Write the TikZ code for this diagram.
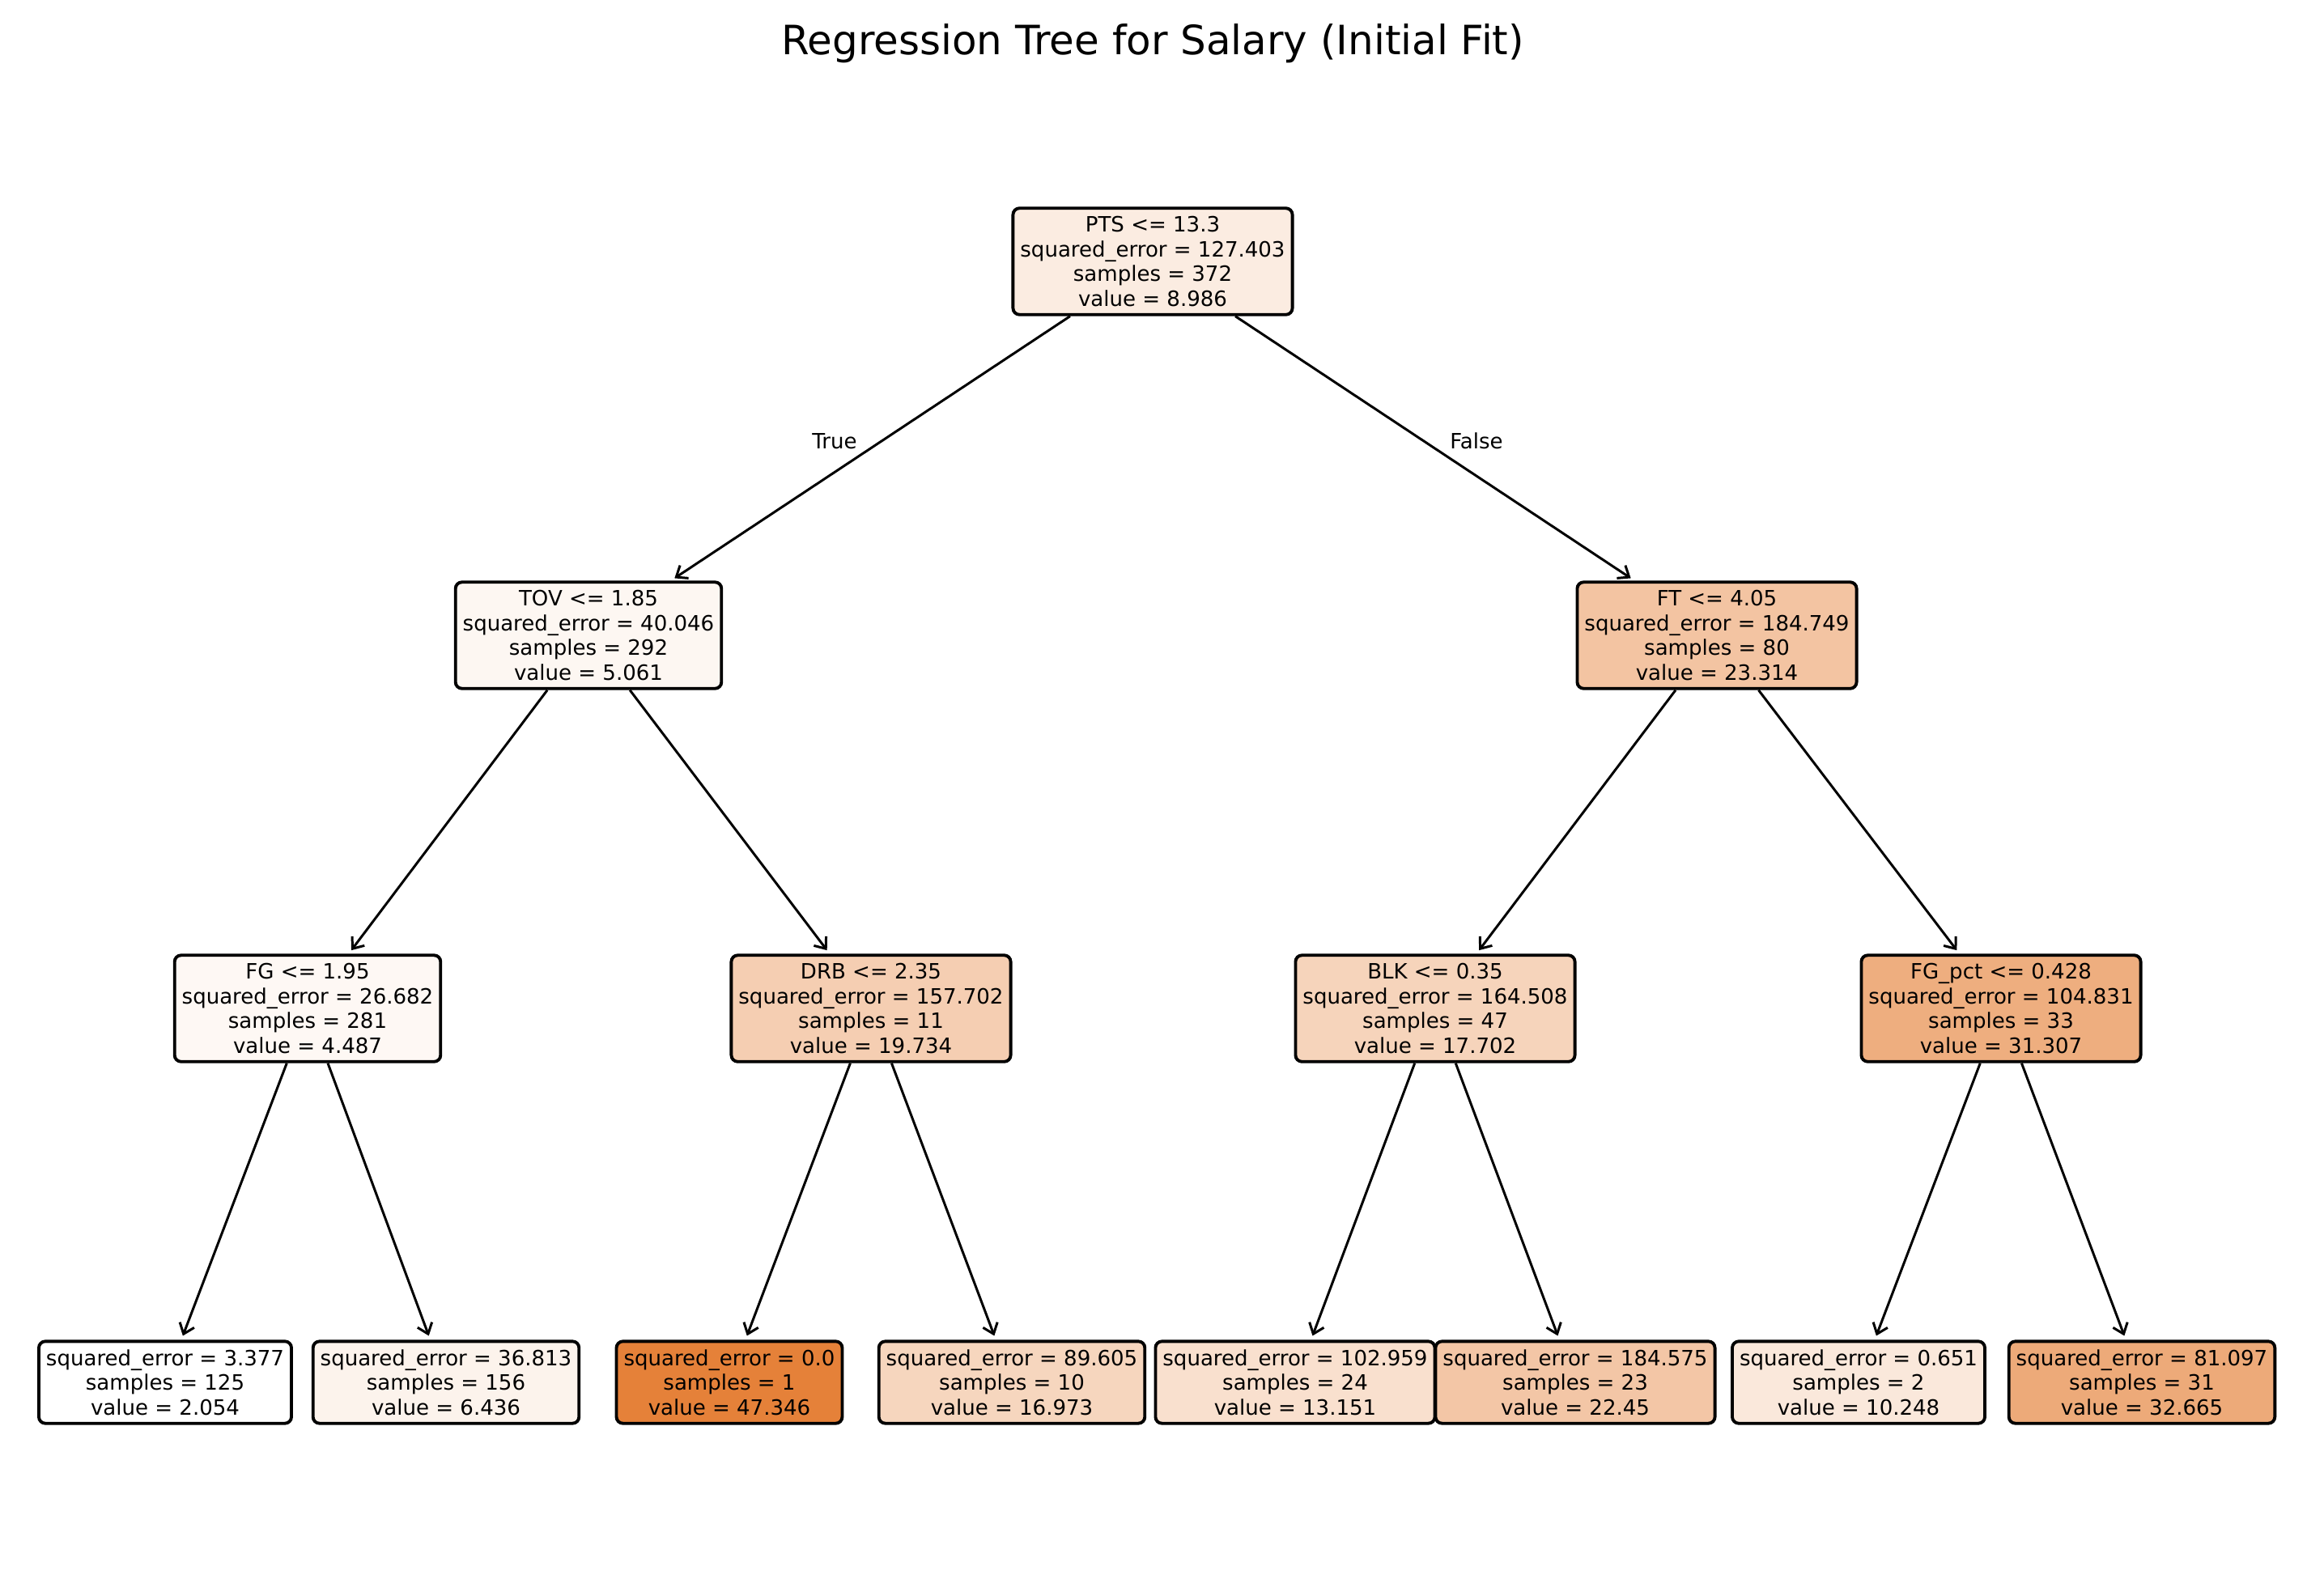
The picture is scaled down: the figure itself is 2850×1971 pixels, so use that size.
\documentclass[tikz,border=0pt]{standalone}
\usepackage{fontspec}
\setmainfont{DejaVu Sans}
\usetikzlibrary{arrows.meta}
\definecolor{cOrange}{HTML}{E58139}
\definecolor{cInk}{HTML}{000000}

\begin{document}
\begin{tikzpicture}[
  x=0.01cm, y=-0.01cm,
  tnode/.style={draw=cInk, line width=1.1pt, rounded corners=0.8mm, align=center,
    font=\fontsize{7.4}{8.7}\selectfont, inner xsep=0.09cm, inner ysep=0.1cm, text=cInk},
  edge/.style={draw=cInk, line width=0.85pt,
    -{Straight Barb[length=1.2mm, width=1.9mm]}, shorten >=1.5pt},
  blab/.style={font=\fontsize{7.4}{8.7}\selectfont, text=cInk},
  ttl/.style={font=\fontsize{14.2}{17}\selectfont, text=cInk},
]
\useasboundingbox (0,0) rectangle (2850,1971);
\node[ttl] (title) at (1424,54) {Regression Tree for Salary (Initial Fit)};

% splits
\node[tnode, fill=cOrange!15.3] (pts) at (1424,323) {PTS <= 13.3\\squared\_error = 127.403\\samples = 372\\value = 8.986};
\node[tnode, fill=cOrange!6.6] (tov) at (727,785) {TOV <= 1.85\\squared\_error = 40.046\\samples = 292\\value = 5.061};
\node[tnode, fill=cOrange!46.9] (ft) at (2121,785) {FT <= 4.05\\squared\_error = 184.749\\samples = 80\\value = 23.314};
\node[tnode, fill=cOrange!5.4] (fg) at (380,1246) {FG <= 1.95\\squared\_error = 26.682\\samples = 281\\value = 4.487};
\node[tnode, fill=cOrange!39] (drb) at (1076,1246) {DRB <= 2.35\\squared\_error = 157.702\\samples = 11\\value = 19.734};
\node[tnode, fill=cOrange!34.5] (blk) at (1773,1246) {BLK <= 0.35\\squared\_error = 164.508\\samples = 47\\value = 17.702};
\node[tnode, fill=cOrange!64.6] (fgpct) at (2472,1246) {FG\_pct <= 0.428\\squared\_error = 104.831\\samples = 33\\value = 31.307};

% leaves
\node[tnode, fill=white] (l1) at (204,1708) {squared\_error = 3.377\\samples = 125\\value = 2.054};
\node[tnode, fill=cOrange!9.7] (l2) at (551,1708) {squared\_error = 36.813\\samples = 156\\value = 6.436};
\node[tnode, fill=cOrange] (l3) at (901,1708) {squared\_error = 0.0\\samples = 1\\value = 47.346};
\node[tnode, fill=cOrange!32.9] (l4) at (1250,1708) {squared\_error = 89.605\\samples = 10\\value = 16.973};
\node[tnode, fill=cOrange!24.5] (l5) at (1600,1708) {squared\_error = 102.959\\samples = 24\\value = 13.151};
\node[tnode, fill=cOrange!45] (l6) at (1946,1708) {squared\_error = 184.575\\samples = 23\\value = 22.45};
\node[tnode, fill=cOrange!18.1] (l7) at (2296,1708) {squared\_error = 0.651\\samples = 2\\value = 10.248};
\node[tnode, fill=cOrange!67.6] (l8) at (2646,1708) {squared\_error = 81.097\\samples = 31\\value = 32.665};

\foreach \a/\b in {pts/tov, pts/ft, tov/fg, tov/drb, ft/blk, ft/fgpct,
  fg/l1, fg/l2, drb/l3, drb/l4, blk/l5, blk/l6, fgpct/l7, fgpct/l8}
  {\draw[edge] (\a) -- (\b);}

\node[blab] (true) at (1031,545) {True};
\node[blab] (false) at (1824,545) {False};
\end{tikzpicture}
\end{document}
